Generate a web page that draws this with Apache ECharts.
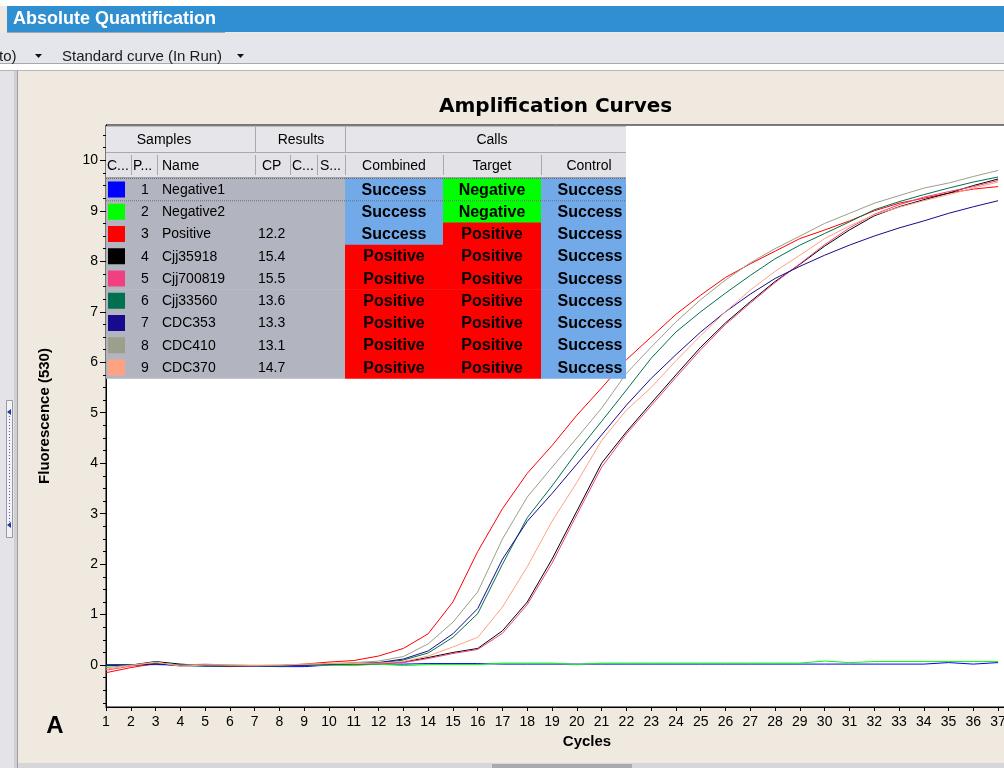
<!DOCTYPE html>
<html>
<head>
<meta charset="utf-8">
<script src="https://cdn.jsdelivr.net/npm/echarts@6/dist/echarts.min.js"></script>
<style>
html,body{margin:0;padding:0;background:#ffffff;overflow:hidden;}
#c{width:1004px;height:768px;}
</style>
</head>
<body>
<div id="c"></div>
<script>
// ---------------- data ----------------
const cycles = [1,2,3,4,5,6,7,8,9,10,11,12,13,14,15,16,17,18,19,20,21,22,23,24,25,26,27,28,29,30,31,32,33,34,35,36,37];
const yTickLabels = [0,1,2,3,4,5,6,7,8,9,10];

const negative1 = [0.00,0.00,0.01,0.00,-0.02,-0.01,-0.02,-0.03,-0.03,0.00,0.02,0.02,0.02,0.03,0.03,0.03,0.02,0.02,0.02,0.02,0.02,0.02,0.02,0.02,0.02,0.02,0.02,0.02,0.02,0.02,0.02,0.02,0.02,0.02,0.05,0.02,0.05];
const negative2 = [-0.02,0.00,0.03,-0.01,0.01,0.00,-0.01,-0.02,0.00,0.00,-0.01,0.02,-0.01,0.01,0.01,0.01,0.04,0.04,0.04,0.01,0.04,0.04,0.04,0.04,0.04,0.04,0.04,0.04,0.04,0.08,0.05,0.07,0.07,0.07,0.07,0.07,0.07];
const positive  = [-0.15,-0.05,0.03,0.00,0.01,-0.01,-0.01,-0.01,0.02,0.06,0.09,0.18,0.33,0.62,1.25,2.25,3.10,3.80,4.35,4.95,5.49,6.05,6.50,6.95,7.33,7.68,7.95,8.20,8.45,8.62,8.80,9.00,9.15,9.25,9.35,9.43,9.48];
const cjj35918  = [0.00,0.00,0.07,0.02,-0.01,-0.03,-0.01,-0.01,0.00,0.02,0.02,0.03,0.06,0.15,0.25,0.33,0.68,1.25,2.10,3.05,4.00,4.62,5.19,5.75,6.30,6.78,7.20,7.60,7.94,8.30,8.62,8.90,9.08,9.22,9.35,9.50,9.63];
const cjj700819 = [-0.10,-0.02,0.04,-0.02,0.00,-0.02,-0.01,-0.01,0.01,0.02,0.02,0.03,0.05,0.13,0.23,0.31,0.63,1.20,2.02,2.98,3.92,4.58,5.14,5.70,6.25,6.75,7.17,7.58,7.95,8.33,8.66,8.93,9.12,9.27,9.38,9.48,9.60];
const cjj33560  = [0.00,0.00,0.03,-0.01,-0.02,-0.01,-0.01,-0.01,0.00,0.02,0.03,0.04,0.10,0.24,0.55,1.02,2.00,2.92,3.55,4.22,4.83,5.45,6.08,6.60,7.00,7.37,7.72,8.05,8.32,8.55,8.78,9.02,9.18,9.32,9.45,9.57,9.67];
const cdc353    = [0.00,0.00,0.02,0.00,-0.01,-0.01,-0.01,-0.02,0.00,0.02,0.03,0.05,0.12,0.28,0.62,1.12,2.10,2.85,3.40,3.98,4.56,5.15,5.68,6.15,6.60,7.00,7.35,7.66,7.90,8.12,8.32,8.50,8.66,8.80,8.95,9.08,9.20];
const cdc410    = [-0.05,0.00,0.05,0.00,0.02,0.00,-0.01,0.00,0.01,0.03,0.05,0.08,0.17,0.42,0.85,1.45,2.50,3.33,3.92,4.50,5.09,5.78,6.30,6.80,7.24,7.63,7.97,8.25,8.50,8.75,8.95,9.15,9.30,9.45,9.55,9.68,9.80];
const cdc370    = [-0.08,-0.01,0.06,-0.02,0.00,0.00,0.00,0.00,0.02,0.03,0.03,0.04,0.07,0.18,0.36,0.55,1.15,1.95,2.85,3.62,4.45,5.05,5.50,6.03,6.53,7.00,7.43,7.80,8.12,8.45,8.70,8.92,9.07,9.20,9.32,9.45,9.57];

const samplePos    = [1,2,3,4,5,6,7,8,9];
const sampleNames  = ['Negative1','Negative2','Positive','Cjj35918','Cjj700819','Cjj33560','CDC353','CDC410','CDC370'];
const sampleColors = ['#0000ff','#00ff00','#ff0000','#000000','#f0407f','#00704f','#170a8c','#9aa08a','#ffa283'];
const sampleCP     = ['','','12.2','15.4','15.5','13.6','13.3','13.1','14.7'];
const combinedCall = ['Success','Success','Success','Positive','Positive','Positive','Positive','Positive','Positive'];
const targetCall   = ['Negative','Negative','Positive','Positive','Positive','Positive','Positive','Positive','Positive'];
const controlCall  = ['Success','Success','Success','Success','Success','Success','Success','Success','Success'];
const sampleSeries = [negative1,negative2,positive,cjj35918,cjj700819,cjj33560,cdc353,cdc410,cdc370];

// ---------------- styling helpers ----------------
const callColor = {Success:'#72a9e8', Negative:'#00ff00', Positive:'#ff0000'};
const SANS = '"Liberation Sans", Arial, sans-serif';

function txt(text, x, y, opt) {
  opt = opt || {};
  return {
    type:'text', x:x, y:y, z: opt.z || 100, silent:true,
    style:{
      text:text,
      font: opt.font || ('14px ' + SANS),
      fill: opt.fill || '#000',
      textAlign: opt.align || 'left', align: opt.align || 'left',
      textVerticalAlign:'middle', verticalAlign:'middle'
    }
  };
}
function rect(x,y,w,h,fill,z,stroke) {
  const r = {type:'rect', z: z===undefined?100:z, silent:true, shape:{x:x,y:y,width:w,height:h}, style:{fill:fill}};
  if (stroke) { r.style.stroke = stroke; r.style.lineWidth = 1; }
  return r;
}
function line(x1,y1,x2,y2,color,z,dash) {
  const l = {type:'line', z: z===undefined?101:z, silent:true, shape:{x1:x1,y1:y1,x2:x2,y2:y2}, style:{stroke:color, lineWidth:1}};
  if (dash) l.style.lineDash = dash;
  return l;
}

const G = [];
// ---- window chrome ----
G.push(rect(0,0,1004,6,'#ffffff',1));
G.push(rect(7,6,997,26,'#2f8fd0',1));
G.push(line(7,32.5,225,32.5,'#9aa6b4',2));
G.push(txt('Absolute Quantification',13,19,{font:'bold 18px '+SANS, fill:'#ffffff', z:3}));
G.push(rect(0,33,1004,30,'#e5e6ec',1));
G.push(line(0,63.5,1004,63.5,'#a8a8ae',2));
G.push(rect(0,64,1004,7,'#ffffff',1));
G.push(line(0,70.5,1004,70.5,'#b4b4ba',2));
G.push(txt('to)',-1,57,{font:'15px '+SANS, fill:'#1a1a1a', z:3}));
G.push({type:'polygon', z:3, silent:true, shape:{points:[[35,54],[42,54],[38.5,58]]}, style:{fill:'#111'}});
G.push(txt('Standard curve (In Run)',62,57,{font:'15px '+SANS, fill:'#1a1a1a', z:3}));
G.push({type:'polygon', z:3, silent:true, shape:{points:[[237,54],[244,54],[240.5,58]]}, style:{fill:'#111'}});
// left gutter
G.push(rect(0,71,14,697,'#e4e4e8',1));
G.push(rect(14,71,4,697,'#cfcfd4',1));
G.push(line(17.5,71,17.5,768,'#9c9ca2',2));
G.push(rect(6.5,400.5,6,137,'#f2f2f6',2,'#9a9aa2'));
G.push(line(9.5,416,9.5,522,'#5a5ad0',3,[1,2]));
G.push({type:'polygon', z:3, silent:true, shape:{points:[[7,412],[11,409],[11,415]]}, style:{fill:'#1c3aa8'}});
G.push({type:'polygon', z:3, silent:true, shape:{points:[[7,525],[11,522],[11,528]]}, style:{fill:'#1c3aa8'}});
// bottom strip
G.push(rect(18,763,986,5,'#d6d6da',1));
G.push(rect(492,764,140,4,'#a9a9ae',2));
// panel label
G.push(txt('A',55,726,{font:'bold 24px '+SANS, fill:'#000', align:'center', z:3}));

// ---- sample table ----
const colX = [106,131,157,255,290,317,345,443,541,626];
const tTop = 126, h1 = 26, h2 = 26, rowH = 22.25;
const dTop = tTop + h1 + h2;
G.push(rect(106,tTop,520,h1,'#e6e6ea'));
G.push(rect(106,tTop+h1,520,h2,'#e2e2e7'));
G.push(line(106,tTop+0.5,626,tTop+0.5,'#b8b8be'));
G.push(line(106,tTop+h1+0.5,626,tTop+h1+0.5,'#a8a8b0'));
G.push(line(106,dTop-0.5,626,dTop-0.5,'#a0a0a8'));
[255,345].forEach(function(x){ G.push(line(x+0.5,tTop+1,x+0.5,tTop+h1,'#a8a8b0')); });
colX.slice(1,9).forEach(function(x){ G.push(line(x+0.5,tTop+h1+3,x+0.5,dTop-3,'#a8a8b0')); });
G.push(txt('Samples',164,tTop+14,{align:'center'}));
G.push(txt('Results',301,tTop+14,{align:'center'}));
G.push(txt('Calls',492,tTop+14,{align:'center'}));
const hy = tTop+h1+14;
G.push(txt('C...',107,hy));
G.push(txt('P...',133,hy));
G.push(txt('Name',162,hy));
G.push(txt('CP',262,hy));
G.push(txt('C...',292,hy));
G.push(txt('S...',320,hy));
G.push(txt('Combined',394,hy,{align:'center'}));
G.push(txt('Target',492,hy,{align:'center'}));
G.push(txt('Control',589,hy,{align:'center'}));
const callFont = 'bold 16px ' + SANS;
for (let i = 0; i < sampleNames.length; i++) {
  const y0 = dTop + i*rowH;
  const cy = y0 + rowH/2 + 1;
  G.push(rect(106,y0,239,rowH+0.5,'#b2b5bf'));
  G.push(rect(345,y0,98,rowH+0.5,callColor[combinedCall[i]]));
  G.push(rect(443,y0,98,rowH+0.5,callColor[targetCall[i]]));
  G.push(rect(541,y0,85,rowH+0.5,callColor[controlCall[i]]));
  G.push(rect(108,y0+3.5,17,16,sampleColors[i],101));
  G.push(txt(String(samplePos[i]),145,cy,{align:'center'}));
  G.push(txt(sampleNames[i],162,cy));
  G.push(txt(sampleCP[i],258,cy));
  G.push(txt(combinedCall[i],394,cy,{font:callFont, align:'center'}));
  G.push(txt(targetCall[i],492,cy,{font:callFont, align:'center'}));
  G.push(txt(controlCall[i],590,cy,{font:callFont, align:'center'}));
}
G.push(line(106,dTop+0.5,626,dTop+0.5,'#6a6a70',102,[1,1]));
G.push(line(106,dTop+rowH+0.5,626,dTop+rowH+0.5,'#6a6a70',102,[1,1]));

// ---------------- axes ticks ----------------
const yMinorTicks = [];
for (let v = -0.75; v <= 10.5; v += 0.25) {
  if (Math.abs(v - Math.round(v)) > 1e-6) yMinorTicks.push(Math.round(v*100)/100);
}

const series = sampleSeries.map(function(vals, i){
  return {
    name: sampleNames[i], type:'line', yAxisIndex:0,
    data: cycles.map(function(c, k){ return [c, vals[k]]; }),
    showSymbol:false, symbol:'none', smooth:false,
    lineStyle:{color:sampleColors[i], width:1},
    itemStyle:{color:sampleColors[i]},
    animation:false, z:3
  };
});

const option = {
  backgroundColor:'#efe9e0',
  animation:false,
  title:{
    text:'Amplification Curves', left:434, top:92,
    textStyle:{fontFamily:'"DejaVu Sans", sans-serif', fontWeight:'bold', fontSize:20, color:'#000'}
  },
  grid:{left:106, top:125, right:-64, bottom:61, outerBoundsMode:'none', containLabel:false,
        show:true, backgroundColor:'#ffffff', borderColor:'#000', borderWidth:1},
  xAxis:{
    type:'value', min:1, max:39.82,
    name:'Cycles', nameLocation:'middle', nameGap:27,
    nameTextStyle:{fontFamily:SANS, fontWeight:'bold', fontSize:15, color:'#000'},
    axisLine:{show:true, onZero:false, lineStyle:{color:'#000', width:1}},
    axisTick:{show:true, length:4, customValues:cycles, lineStyle:{color:'#000'}},
    axisLabel:{show:true, customValues:cycles, margin:8, fontFamily:SANS, fontSize:14, color:'#000'},
    splitLine:{show:false}
  },
  yAxis:[
    {
      type:'value', min:-0.83, max:10.7, position:'left',
      name:'Fluorescence (530)', nameLocation:'middle', nameGap:54, nameRotate:90,
      nameTextStyle:{fontFamily:SANS, fontWeight:'bold', fontSize:15, color:'#000'},
      axisLine:{show:true, onZero:false, lineStyle:{color:'#000', width:1}},
      axisTick:{show:true, length:6, customValues:yTickLabels, lineStyle:{color:'#000'}},
      axisLabel:{show:true, customValues:yTickLabels, margin:8, fontFamily:SANS, fontSize:14, color:'#000'},
      splitLine:{show:false}
    },
    {
      type:'value', min:-0.83, max:10.7, position:'left',
      axisLine:{show:false},
      axisTick:{show:true, length:3, customValues:yMinorTicks, lineStyle:{color:'#000'}},
      axisLabel:{show:false},
      splitLine:{show:false}
    }
  ],
  graphic:{elements:G},
  series:series
};

const chart = echarts.init(document.getElementById('c'), null, {renderer:'canvas'});
chart.setOption(option);
</script>
</body>
</html>
